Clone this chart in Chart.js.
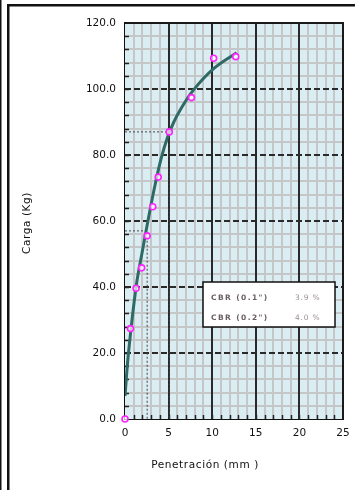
<!DOCTYPE html>
<html>
<head>
<meta charset="utf-8">
<script src="https://cdn.jsdelivr.net/npm/chart.js@4/dist/chart.umd.min.js"></script>
<style>
  html, body { margin: 0; padding: 0; background: #ffffff; }
  #wrap { position: relative; width: 355px; height: 490px; }
</style>
</head>
<body>
<div id="wrap"><canvas id="c" width="355" height="490"></canvas></div>
<script>
// Ensayo CBR: penetración (mm) vs carga (kg)
const penetracion = [0, 0.63, 1.27, 1.91, 2.54, 3.18, 3.81, 5.08, 7.62, 10.16, 12.7];
const carga       = [0, 27.4, 39.6, 45.8, 55.5, 64.3, 73.3, 87.0, 97.4, 109.3, 109.8];

// Curva corregida (ajuste suavizado)
const curvaX = [0, 0.4, 1.27, 2.0, 2.7, 3.45, 4.15, 4.9, 5.6, 6.3, 7.8, 10.1, 12.8];
const curvaY = [7, 20, 40, 51, 61, 71, 79, 85.5, 90, 93.5, 99.5, 106, 111];

// Penetraciones de referencia 0.1" y 0.2" y cargas
const penRef   = [2.54, 5.08];
const cargaRef = [57, 87];

// Resultados
const cbrLabels = ['CBR (0.1")', 'CBR (0.2")'];
const cbrValues = ['3.9 %', '4.0 %'];

// Ejes
const xTicks = [0, 5, 10, 15, 20, 25];
const yTicks = [0, 20, 40, 60, 80, 100, 120];

const toXY = (xs, ys) => xs.map((x, i) => ({ x: x, y: ys[i] }));

const guideSets = penRef.map((p, i) => ({
  data: [{ x: 0, y: cargaRef[i] }, { x: p, y: cargaRef[i] }, { x: p, y: 0 }],
  showLine: true,
  borderColor: '#444444',
  borderWidth: 1,
  borderDash: [2, 2],
  pointRadius: 0,
  tension: 0,
  order: 3
}));

// Fondo y cuadrícula milimetrada del área de trazado
const gridPlugin = {
  id: 'gridPaper',
  beforeDatasetsDraw(chart) {
    const { ctx, chartArea: a, scales: { x, y } } = chart;
    ctx.save();
    ctx.fillStyle = '#d9edf3';
    ctx.fillRect(a.left, a.top, a.right - a.left, a.bottom - a.top);

    // cuadrícula secundaria
    ctx.strokeStyle = '#c4c6c8';
    ctx.lineWidth = 2;
    for (let v = 1; v < 25; v++) {
      if (v % 5 === 0) continue;
      const px = Math.round(x.getPixelForValue(v));
      ctx.beginPath(); ctx.moveTo(px, a.top); ctx.lineTo(px, a.bottom); ctx.stroke();
    }
    for (let v = 4; v < 120; v += 4) {
      if (v % 20 === 0) continue;
      const py = Math.round(y.getPixelForValue(v));
      ctx.beginPath(); ctx.moveTo(a.left, py); ctx.lineTo(a.right, py); ctx.stroke();
    }

    // marcas menores sobre los ejes
    ctx.strokeStyle = '#222222';
    ctx.lineWidth = 1.5;
    for (let v = 1; v < 25; v++) {
      const px = Math.round(x.getPixelForValue(v)) + 0.5;
      ctx.beginPath(); ctx.moveTo(px, a.bottom); ctx.lineTo(px, a.bottom - 4); ctx.stroke();
    }
    for (let v = 4; v < 120; v += 4) {
      const py = Math.round(y.getPixelForValue(v)) + 0.5;
      ctx.beginPath(); ctx.moveTo(a.left, py); ctx.lineTo(a.left + 4, py); ctx.stroke();
    }

    // cuadrícula principal
    ctx.strokeStyle = '#2a2a2a';
    ctx.lineWidth = 2;
    xTicks.forEach(v => {
      if (v === 0 || v === 25) return;
      const px = Math.round(x.getPixelForValue(v));
      ctx.beginPath(); ctx.moveTo(px, a.top); ctx.lineTo(px, a.bottom); ctx.stroke();
    });
    ctx.setLineDash([6, 3]);
    yTicks.forEach(v => {
      if (v === 0 || v === 120) return;
      const py = Math.round(y.getPixelForValue(v));
      ctx.beginPath(); ctx.moveTo(a.left, py); ctx.lineTo(a.right, py); ctx.stroke();
    });
    ctx.setLineDash([]);

    // marco del área de trazado
    ctx.strokeStyle = '#1a1a1a';
    ctx.lineWidth = 2;
    ctx.beginPath();
    ctx.moveTo(a.left, a.top); ctx.lineTo(a.right, a.top); ctx.lineTo(a.right, a.bottom);
    ctx.stroke();
    ctx.restore();
  },
  afterDraw(chart) {
    const { ctx } = chart;
    ctx.save();

    // recuadro de resultados
    const bx = 203, by = 282, bw = 132, bh = 45;
    ctx.fillStyle = '#ffffff';
    ctx.fillRect(bx, by, bw, bh);
    ctx.strokeStyle = '#111111';
    ctx.lineWidth = 1.5;
    ctx.strokeRect(bx, by, bw, bh);
    ctx.textBaseline = 'middle';
    ctx.textAlign = 'left';
    cbrLabels.forEach((t, i) => {
      const ty = by + 16 + i * 20;
      ctx.font = 'bold 7.5px "DejaVu Sans"';
      ctx.letterSpacing = '1.4px';
      ctx.fillStyle = '#6a5e60';
      ctx.fillText(t, bx + 8, ty);
      ctx.font = '7.5px "DejaVu Sans"';
      ctx.letterSpacing = '0.8px';
      ctx.fillStyle = '#9b9099';
      ctx.fillText(cbrValues[i], bx + 92, ty);
    });
    ctx.letterSpacing = '0px';

    // títulos de los ejes
    ctx.fillStyle = '#111111';
    ctx.font = '10.5px "DejaVu Sans"';
    ctx.letterSpacing = '0.6px';
    ctx.textAlign = 'center';
    ctx.textBaseline = 'middle';
    ctx.fillText('Penetración (mm )', 205, 465);
    ctx.save();
    ctx.translate(27, 223);
    ctx.rotate(-Math.PI / 2);
    ctx.fillText('Carga (Kg)', 0, 0);
    ctx.restore();
    ctx.letterSpacing = '0px';

    // marco de la hoja
    ctx.fillStyle = '#111111';
    ctx.fillRect(0, 0, 1.5, 490);
    ctx.fillRect(7, 4, 2.5, 486);
    ctx.fillRect(7, 4, 348, 2.5);
    ctx.restore();
  }
};

new Chart(document.getElementById('c'), {
  type: 'scatter',
  data: {
    datasets: [
      {
        label: 'Curva',
        data: toXY(curvaX, curvaY),
        showLine: true,
        borderColor: '#2f6a66',
        borderWidth: 3,
        pointRadius: 0,
        tension: 0.4,
        order: 2
      },
      {
        label: 'Ensayo',
        data: toXY(penetracion, carga),
        showLine: false,
        clip: false,
        pointStyle: 'circle',
        pointRadius: 3,
        pointBorderWidth: 1.6,
        pointBorderColor: '#ff22ff',
        pointBackgroundColor: 'rgba(255,255,255,0.7)',
        order: 1
      },
      ...guideSets
    ]
  },
  options: {
    responsive: false,
    animation: false,
    devicePixelRatio: 1,
    layout: { padding: { left: 0, top: 23, right: 12, bottom: 0 } },
    plugins: { legend: { display: false }, tooltip: { enabled: false }, title: { display: false } },
    scales: {
      x: {
        type: 'linear',
        min: 0, max: 25,
        afterFit: s => { s.height = 71; s.paddingLeft = 0; s.paddingRight = 0; },
        afterBuildTicks: s => { s.ticks = xTicks.map(v => ({ value: v })); },
        ticks: {
          padding: 8,
          color: '#111111',
          font: { family: 'DejaVu Sans', size: 10.5 },
          maxRotation: 0,
          callback: v => String(v)
        },
        grid: { display: false, drawTicks: false },
        border: { display: true, color: '#111111', width: 2 }
      },
      y: {
        type: 'linear',
        min: 0, max: 120,
        afterFit: s => { s.width = 125; s.paddingTop = 0; s.paddingBottom = 0; },
        afterBuildTicks: s => { s.ticks = yTicks.map(v => ({ value: v })); },
        ticks: {
          padding: 9,
          color: '#111111',
          font: { family: 'DejaVu Sans', size: 10.5 },
          callback: v => Number(v).toFixed(1)
        },
        grid: { display: false, drawTicks: false },
        border: { display: true, color: '#111111', width: 2 }
      }
    }
  },
  plugins: [gridPlugin]
});
</script>
</body>
</html>
